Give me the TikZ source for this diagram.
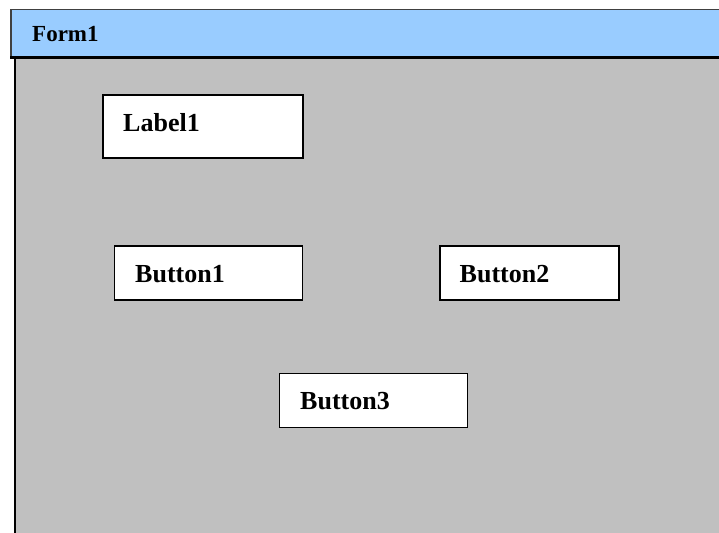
\documentclass[tikz,border=0pt]{standalone}
\usepackage{fontspec}
\setmainfont{Liberation Serif}
\definecolor{formgray}{HTML}{C0C0C0}
\definecolor{titleblue}{HTML}{99CCFF}
\begin{document}
\begin{tikzpicture}[x=1pt,y=-1pt,
  box/.style={draw=black, fill=white, line width=1.8pt, anchor=north west, inner sep=0pt},
  lbl/.style={anchor=base west, inner sep=0pt, font=\fontsize{26}{28}\selectfont\bfseries},
  ttl/.style={anchor=base west, inner sep=0pt, font=\fontsize{23}{25}\selectfont\bfseries}]
\useasboundingbox (0,0) rectangle (719,532);
\begin{scope}
\clip (0,0) rectangle (719,532);
% form body
\node[draw=none, fill=formgray, anchor=north west, inner sep=0pt, minimum width=720pt, minimum height=490pt] (body) at (15,56) {};
\draw[line width=2.4pt] (body.north west) -- (body.south west);
% title bar
\node[draw=black!75, fill=titleblue, line width=1.5pt, anchor=north west, inner sep=0pt, minimum width=720pt, minimum height=47pt] (bar) at (10,9) {};
\draw[line width=2.6pt] (bar.south west) -- (bar.south east);
\end{scope}
\node[ttl] (ftxt) at (32,41.5) {Form1};
% controls
\node[box, minimum width=200pt, minimum height=63pt] (label1) at (102,94) {};
\node[lbl] (label1t) at (123,131.5) {Label1};
\node[box, minimum width=188pt, minimum height=54pt] (button1) at (113.5,245) {};
\node[lbl] (button1t) at (135,282.3) {Button1};
\node[box, minimum width=179pt, minimum height=54pt] (button2) at (439,245) {};
\node[lbl] (button2t) at (459.5,282.3) {Button2};
\node[box, minimum width=188pt, minimum height=54pt] (button3) at (278.5,372.5) {};
\node[lbl] (button3t) at (300,409.5) {Button3};
\end{tikzpicture}
\end{document}
